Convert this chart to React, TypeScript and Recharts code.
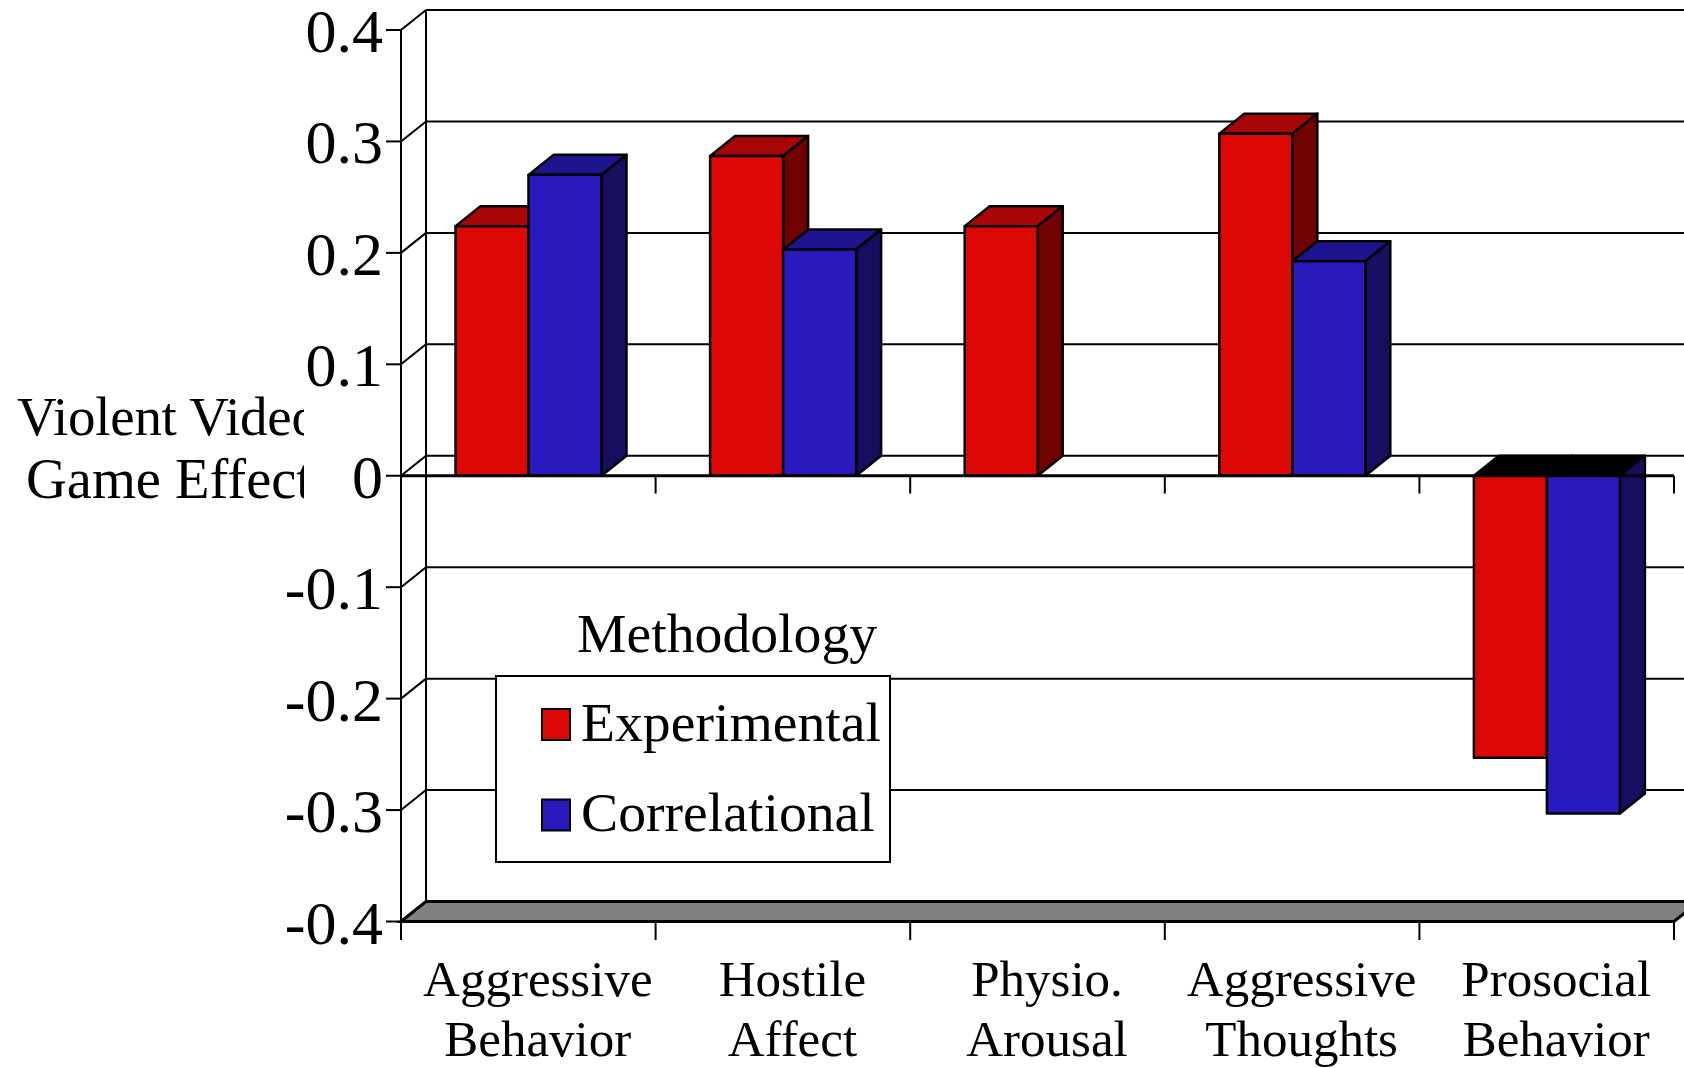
import React from "react";
import {
  BarChart,
  Bar,
  XAxis,
  YAxis,
  CartesianGrid,
  ReferenceLine,
  Legend,
  Label,
} from "recharts";

const categories = [
  "Aggressive Behavior",
  "Hostile Affect",
  "Physio. Arousal",
  "Aggressive Thoughts",
  "Prosocial Behavior",
];
const experimental = [0.224, 0.287, 0.224, 0.307, -0.253];
const correlational = [0.27, 0.203, null, 0.1925, -0.303];
const yTicks = [0.4, 0.3, 0.2, 0.1, 0, -0.1, -0.2, -0.3, -0.4];
const edgeTicks = [0, 1, 2, 3, 4, 5];
const yTitleLines = ["Violent Video", "Game Effect"];
const legendTitle = "Methodology";

const rows = categories.map((name, i) => ({
  name,
  slot: edgeTicks[i],
  experimental: experimental[i],
  correlational: correlational[i],
}));

const FONT = "'Liberation Serif', 'Times New Roman', serif";
const DX = 25;
const DY = 20;
const RED = { front: "#DC0805", top: "#A80606", side: "#700202" };
const BLUE = { front: "#2A1ABE", top: "#1F1490", side: "#170E60" };

const Bar3D = (props: any) => {
  const { x, y, width, height, val, colors } = props;
  if (val === null || val === undefined) return null;
  const top = Math.min(y, y + height);
  const bottom = Math.max(y, y + height);
  const right = x + width;
  const line = { stroke: "#000", strokeWidth: 2.5, strokeLinejoin: "round" as const };
  return (
    <g>
      <polygon
        points={`${x},${top} ${x + DX},${top - DY} ${right + DX},${top - DY} ${right},${top}`}
        fill={val < 0 ? "#000" : colors.top}
        {...line}
      />
      <polygon
        points={`${right},${top} ${right + DX},${top - DY} ${right + DX},${bottom - DY} ${right},${bottom}`}
        fill={colors.side}
        {...line}
      />
      <rect x={x} y={top} width={width} height={bottom - top} fill={colors.front} {...line} />
    </g>
  );
};

// back wall line plus the short diagonal going to the front axis
const GridLine = (props: any) => {
  const { x1, x2, y1, index } = props;
  return (
    <g key={`grid-${index}`} stroke="#000" strokeWidth={2}>
      <line x1={x1 + DX} y1={y1 - DY} x2={x2 + DX} y2={y1 - DY} />
      <line x1={x1} y1={y1} x2={x1 + DX} y2={y1 - DY} />
    </g>
  );
};

const Floor = (props: any) => {
  const { x1, x2, y1 } = props;
  return (
    <polygon
      points={`${x1},${y1} ${x1 + DX},${y1 - DY} ${x2 + DX},${y1 - DY} ${x2},${y1}`}
      fill="#808080"
      stroke="#000"
      strokeWidth={3}
    />
  );
};

const BackWall = (props: any) => {
  const { x1, y1, y2 } = props;
  return <line x1={x1 + DX} y1={y1 - DY} x2={x1 + DX} y2={y2 - DY} stroke="#000" strokeWidth={2} />;
};

const CategoryTick = (props: any) => {
  const { x, payload } = props;
  const parts = String(payload.value).split(" ");
  return (
    <text textAnchor="middle" fontFamily={FONT} fontSize={51} fill="#000">
      <tspan x={x + 9.5} y={996}>{parts[0]}</tspan>
      <tspan x={x + 9.5} y={1056}>{parts[1]}</tspan>
    </text>
  );
};

const YTitle = () => (
  <g fontFamily={FONT} fill="#000">
    <defs>
      <clipPath id="title-clip">
        <rect x={0} y={380} width={304} height={140} />
      </clipPath>
    </defs>
    <g clipPath="url(#title-clip)">
      <text x={17} y={435} fontSize={55} letterSpacing={-0.3}>{yTitleLines[0]}</text>
      <text x={26} y={498} fontSize={56.5}>{yTitleLines[1]}</text>
    </g>
  </g>
);

const LegendBox = ({ payload }: any) => (
  <svg width={1684} height={1068} style={{ display: "block" }}>
    <g fontFamily={FONT} fontSize={55.7} fill="#000">
      <text x={577} y={652}>{legendTitle}</text>
      <rect x={496} y={676} width={394} height={186} fill="#fff" stroke="#000" strokeWidth={2} />
      {(payload || []).map((item: any, i: number) => (
        <g key={item.value}>
          <rect x={542} y={709 + i * 90.5} width={28} height={31} fill={item.color} stroke="#000" strokeWidth={2} />
          <text x={581} y={741 + i * 90}>{item.value}</text>
        </g>
      ))}
    </g>
  </svg>
);

export default function App() {
  return (
    <div style={{ position: "absolute", left: 0, top: 0, width: 1684, height: 1068, overflow: "hidden", background: "#fff" }}>
      <BarChart
        width={1684}
        height={1068}
        data={rows}
        margin={{ top: 30, right: 10, bottom: 0, left: 0 }}
        barCategoryGap={54.5}
        barGap={0}
      >
        <CartesianGrid vertical={false} horizontal={GridLine} stroke="#000" />
        <ReferenceLine y={-0.4} shape={Floor} />
        <ReferenceLine xAxisId="edge" x={0} shape={BackWall} />
        <XAxis
          xAxisId="cat"
          dataKey="name"
          height={0.5}
          axisLine={false}
          tickLine={false}
          interval={0}
          tick={<CategoryTick />}
        />
        <XAxis
          xAxisId="edge"
          type="number"
          dataKey="slot"
          domain={[0, 5]}
          allowDataOverflow
          ticks={edgeTicks}
          interval={0}
          height={146}
          tickSize={18}
          tickFormatter={() => ""}
          stroke="#000"
          strokeWidth={2}
        />
        <YAxis
          width={401}
          domain={[-0.4, 0.4]}
          ticks={yTicks}
          interval={0}
          tickSize={15}
          tickMargin={3}
          tickFormatter={(v: number) => String(v)}
          tick={{ fontFamily: FONT, fontSize: 62, fill: "#000" }}
          stroke="#000"
          strokeWidth={2}
        >
          <Label content={<YTitle />} />
        </YAxis>
        <ReferenceLine y={0} stroke="#000" strokeWidth={3} />
        {edgeTicks.slice(1).map((t) => (
          <ReferenceLine
            key={t}
            xAxisId="edge"
            segment={[{ x: t, y: 0 }, { x: t, y: -0.016 }]}
            stroke="#000"
            strokeWidth={2}
          />
        ))}
        <Bar
          xAxisId="cat"
          dataKey="experimental"
          name="Experimental"
          fill={RED.front}
          isAnimationActive={false}
          shape={(p: any) => <Bar3D {...p} val={p.payload.experimental} colors={RED} />}
        />
        <Bar
          xAxisId="cat"
          dataKey="correlational"
          name="Correlational"
          fill={BLUE.front}
          isAnimationActive={false}
          shape={(p: any) => <Bar3D {...p} val={p.payload.correlational} colors={BLUE} />}
        />
        <Legend
          layout="horizontal"
          verticalAlign="middle"
          align="center"
          itemSorter={null}
          content={<LegendBox />}
          wrapperStyle={{ position: "absolute", left: 0, top: 0, width: 1684, height: 1068, pointerEvents: "none" }}
        />
      </BarChart>
    </div>
  );
}
